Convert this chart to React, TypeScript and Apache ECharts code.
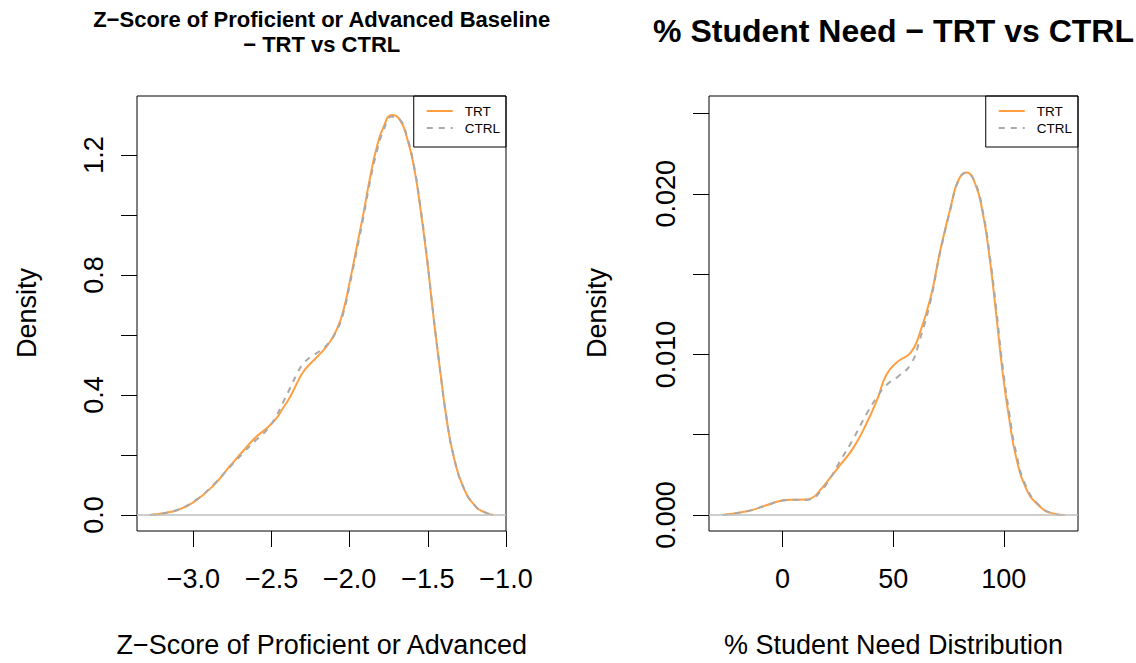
import React, { useEffect, useRef } from "react";
import * as echarts from "echarts";

// ---- Data ----
const leftX = [-3.28, -3.19, -3.09, -2.98, -2.87, -2.77, -2.68, -2.6, -2.53, -2.47, -2.43, -2.38, -2.34, -2.3, -2.25, -2.19, -2.13, -2.08, -2.04, -2.0, -1.955, -1.91, -1.87, -1.83, -1.785, -1.73, -1.68, -1.635, -1.59, -1.55, -1.505, -1.465, -1.42, -1.38, -1.335, -1.27, -1.19, -1.13, -1.08];
const leftTRT = [0, 0.006, 0.019, 0.05, 0.1, 0.161, 0.215, 0.26, 0.29, 0.322, 0.354, 0.395, 0.437, 0.475, 0.506, 0.537, 0.575, 0.622, 0.683, 0.777, 0.894, 1.012, 1.125, 1.22, 1.292, 1.333, 1.318, 1.26, 1.163, 1.03, 0.85, 0.665, 0.475, 0.32, 0.195, 0.089, 0.026, 0.008, 0];
const leftCTRL = [0, 0.006, 0.02, 0.052, 0.102, 0.158, 0.208, 0.25, 0.284, 0.33, 0.372, 0.425, 0.468, 0.503, 0.527, 0.547, 0.577, 0.618, 0.675, 0.768, 0.882, 1.0, 1.112, 1.205, 1.28, 1.328, 1.319, 1.264, 1.167, 1.036, 0.856, 0.668, 0.477, 0.322, 0.197, 0.09, 0.026, 0.008, 0];

const rightX = [-27, -15, -7, 0, 5, 10, 14, 17, 20, 26, 32, 38, 43, 47, 52, 58, 62, 67, 71, 76, 79.5, 83, 87, 90.5, 93.5, 96.5, 99.5, 102.5, 105.5, 110, 116, 122, 127.5];
const rightTRT = [0, 0.00027, 0.00062, 0.0009, 0.00095, 0.00096, 0.00112, 0.00155, 0.00205, 0.0031, 0.00418, 0.00571, 0.00727, 0.00875, 0.00955, 0.01012, 0.01131, 0.01359, 0.0163, 0.0192, 0.02086, 0.02132, 0.02065, 0.01878, 0.01609, 0.01256, 0.00882, 0.00592, 0.00363, 0.00166, 0.00056, 0.0001, 0];
const rightCTRL = [0, 0.00027, 0.00062, 0.0009, 0.00095, 0.00094, 0.00106, 0.00145, 0.00195, 0.00335, 0.00475, 0.0063, 0.0074, 0.0081, 0.0086, 0.0094, 0.0109, 0.0134, 0.0162, 0.0191, 0.02083, 0.02132, 0.0207, 0.0189, 0.0163, 0.0129, 0.0092, 0.0063, 0.0039, 0.0018, 0.0006, 0.0001, 0];

const leftXTicks = [-3.0, -2.5, -2.0, -1.5, -1.0];
const leftYTicks = [0, 0.2, 0.4, 0.6, 0.8, 1.0, 1.2];
const leftYLabels = [0, 0.4, 0.8, 1.2];
const rightXTicks = [0, 50, 100];
const rightYTicks = [0, 0.005, 0.01, 0.015, 0.02, 0.025];
const rightYLabels = [0, 0.01, 0.02];

const seriesNames = ["TRT", "CTRL"];
const titleLeft1 = "Z\u2212Score of Proficient or Advanced Baseline";
const titleLeft2 = "\u2212 TRT vs CTRL";
const titleRight = "% Student Need \u2212 TRT vs CTRL";
const xNameLeft = "Z\u2212Score of Proficient or Advanced";
const xNameRight = "% Student Need Distribution";
const yName = "Density";

const FONT = "'Liberation Sans', Arial, Helvetica, sans-serif";
const ORANGE = "#FF9F40";
const GREY = "#A9A9A9";

const zip = (xs: number[], ys: number[]) => xs.map((x, i) => [x, ys[i]]);
const minusFmt = (d: number) => (v: number) => (v < 0 ? "\u2212" : "") + Math.abs(v).toFixed(d);

export default function App() {
  const ref = useRef<HTMLDivElement>(null);
  useEffect(() => {
    if (!ref.current) return;
    const chart = echarts.init(ref.current, null, { renderer: "svg" });

    const tickCommon = { show: true, inside: false, length: 16, lineStyle: { color: "#000", width: 1 } };
    const labelCommon = { color: "#000", fontSize: 27, fontFamily: FONT };

    const xAxisBase = (gridIndex: number, min: number, max: number, ticks: number[], dec: number) => ({
      type: "value",
      gridIndex,
      min,
      max,
      position: "bottom",
      axisLine: { show: false, onZero: false },
      splitLine: { show: false },
      axisTick: { ...tickCommon, customValues: ticks },
      axisLabel: { ...labelCommon, customValues: ticks, margin: 34, formatter: minusFmt(dec), showMinLabel: true, showMaxLabel: true },
    });
    const yAxisBase = (gridIndex: number, min: number, max: number, ticks: number[], labels: number[], dec: number) => ({
      type: "value",
      gridIndex,
      min,
      max,
      position: "left",
      axisLine: { show: false, onZero: false },
      splitLine: { show: false },
      axisTick: { ...tickCommon, customValues: ticks },
      axisLabel: { ...labelCommon, customValues: labels, rotate: 90, margin: 30, formatter: minusFmt(dec), showMinLabel: true, showMaxLabel: true },
    });

    const lineSeries = (name: string, xi: number, data: number[][], color: string, dashed: boolean, zero: boolean) => ({
      type: "line",
      name,
      xAxisIndex: xi,
      yAxisIndex: xi,
      data,
      symbol: "none",
      showSymbol: false,
      smooth: 0.5,
      lineStyle: { color, width: 2, type: dashed ? [6, 6] : "solid" },
      itemStyle: { color },
      z: dashed ? 3 : 2,
      markLine: zero
        ? {
            silent: true,
            symbol: ["none", "none"],
            label: { show: false },
            lineStyle: { color: "#BEBEBE", width: 1.5, type: "solid" },
            data: [{ yAxis: 0 }],
          }
        : undefined,
    });

    const legendBase = (right: number) => ({
      orient: "vertical",
      right,
      top: 96,
      data: seriesNames,
      selectedMode: false,
      borderColor: "#000",
      borderWidth: 1,
      borderRadius: 0,
      padding: [8, 6, 12, 12],
      itemWidth: 26,
      itemHeight: 14,
      itemGap: 3,
      itemStyle: { opacity: 0 },
      textStyle: { color: "#000", fontSize: 13.5, fontFamily: FONT, padding: [0, 0, 0, 7] },
    });

    const text = (t: string, x: number, y: number, size: number, bold: boolean, rot = 0) => ({
      type: "text",
      x,
      y,
      rotation: rot,
      style: {
        text: t,
        fontSize: size,
        fontWeight: bold ? "bold" : "normal",
        fontFamily: FONT,
        fill: "#000",
        align: "center",
        verticalAlign: "middle",
      },
    });

    chart.setOption({
      animation: false,
      backgroundColor: "#fff",
      grid: [
        { left: 137, top: 96, width: 369, height: 435, show: true, borderColor: "#000", borderWidth: 1, backgroundColor: "transparent" },
        { left: 709, top: 96, width: 369, height: 435, show: true, borderColor: "#000", borderWidth: 1, backgroundColor: "transparent" },
      ],
      xAxis: [
        xAxisBase(0, -3.3615, -1.0, leftXTicks, 1),
        xAxisBase(1, -33.2, 133.5, rightXTicks, 0),
      ],
      yAxis: [
        yAxisBase(0, -0.0533, 1.3967, leftYTicks, leftYLabels, 1),
        yAxisBase(1, -0.000996, 0.02609, rightYTicks, rightYLabels, 3),
      ],
      legend: [legendBase(630), legendBase(58)],
      series: [
        lineSeries("TRT", 0, zip(leftX, leftTRT), ORANGE, false, true),
        lineSeries("CTRL", 0, zip(leftX, leftCTRL), GREY, true, false),
        lineSeries("TRT", 1, zip(rightX, rightTRT), ORANGE, false, true),
        lineSeries("CTRL", 1, zip(rightX, rightCTRL), GREY, true, false),
      ],
      graphic: [
        text(titleLeft1, 321.7, 19, 22, true),
        text(titleLeft2, 321.7, 44, 22, true),
        text(titleRight, 893.5, 31, 32, true),
        text(xNameLeft, 321.7, 645, 27, false),
        text(xNameRight, 893.5, 645, 27, false),
        text(yName, 27, 313, 27, false, Math.PI / 2),
        text(yName, 597, 313, 27, false, Math.PI / 2),
      ],
    });
    return () => chart.dispose();
  }, []);
  return <div ref={ref} style={{ position: "fixed", left: 0, top: 0, width: 1136, height: 663 }} />;
}
